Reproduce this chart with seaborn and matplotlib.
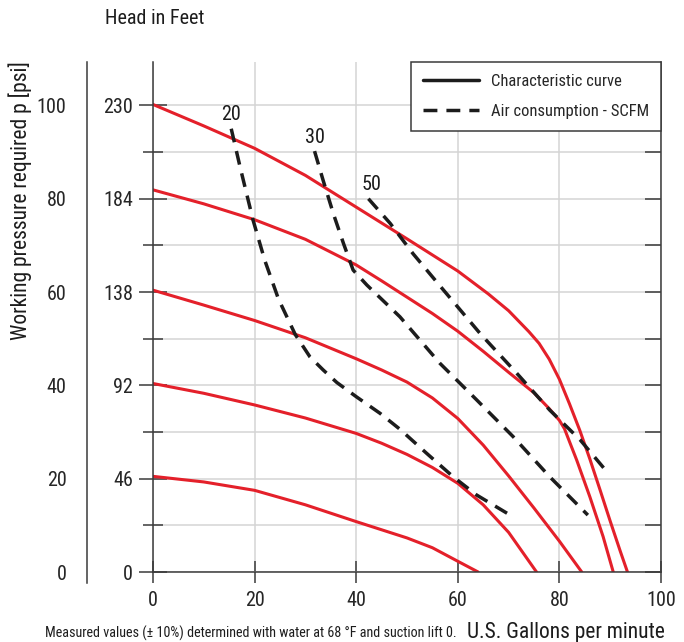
import os
import matplotlib
matplotlib.use("Agg")
import matplotlib.pyplot as plt
import seaborn as sns
from matplotlib import font_manager as fm
from matplotlib.lines import Line2D

# characteristic curves (x = US gpm, y = psi)
char_100_x = [0, 10, 20, 30, 40, 50, 60, 66, 70, 74, 76, 78, 80, 82, 84, 86, 88, 90, 92, 93.4]
char_100_y = [100.2, 95.6, 90.8, 85.0, 78.2, 71.4, 64.5, 59.6, 56.0, 51.5, 49.0, 45.6, 41.3, 36.0, 30.4, 24.2, 17.6, 10.9, 4.4, 0]

char_80_x = [0, 10, 20, 30, 40, 45, 50, 55, 60, 65, 70, 75, 78, 80, 81, 82, 83.4, 86, 88.6, 90.6]
char_80_y = [81.9, 78.9, 75.5, 71.3, 65.8, 62.4, 58.9, 55.4, 51.6, 47.3, 42.8, 38.4, 35.0, 32.5, 30.7, 27.9, 24.0, 16.1, 7.6, 0]

char_60_x = [0, 10, 20, 30, 40, 45, 50, 55, 60, 65, 70, 75, 80, 84.4]
char_60_y = [60.4, 57.2, 53.9, 50.2, 45.7, 43.3, 40.7, 37.3, 32.9, 27.2, 20.6, 13.7, 6.6, 0]

char_40_x = [0, 10, 20, 30, 40, 45, 50, 55, 60, 65, 70, 75.5]
char_40_y = [40.4, 38.3, 35.8, 33.0, 29.7, 27.6, 25.2, 22.4, 19.0, 14.4, 8.5, 0]

char_20_x = [0, 10, 20, 30, 40, 50, 55, 60, 64]
char_20_y = [20.5, 19.3, 17.5, 14.4, 10.8, 7.3, 5.2, 2.3, 0]

# air consumption lines (SCFM)
air_20_x = [15.4, 17.1, 19.7, 22.0, 24.7, 28.0, 30.9, 33.5, 36.2, 40.1, 44.7, 48.6, 53.9, 59.1, 63.7, 70.3]
air_20_y = [95.0, 87.0, 75.4, 66.8, 58.5, 50.9, 46.1, 43.3, 40.6, 37.5, 34.0, 30.6, 25.4, 20.4, 16.5, 12.2]

air_30_x = [31.8, 33.5, 35.5, 37.5, 39.4, 42.1, 48.6, 56.5, 63.7, 70.9, 78.1, 85.6]
air_30_y = [90.2, 83.9, 76.8, 70.4, 64.7, 61.5, 54.7, 44.7, 36.9, 29.0, 20.4, 12.2]

air_50_x = [42.4, 46.7, 51.2, 57.2, 64.4, 71.6, 78.1, 84.1, 88.8]
air_50_y = [80.0, 74.7, 68.2, 60.4, 51.1, 42.6, 34.7, 28.3, 22.2]

air_labels = ["20", "30", "50"]
air_label_x = [15.4, 31.9, 43.1]
air_label_y = [98.1, 93.2, 83.1]

psi_ticks = [0, 20, 40, 60, 80, 100]
feet_labels = ["0", "46", "92", "138", "184", "230"]
gpm_ticks = [0, 20, 40, 60, 80, 100]

RED = "#e4202a"
DARK = "#1c1c1c"
SPINE = "#3a3a3a"
GRID = "#d4d4d4"

sns.set_style("white")


def pick_narrow_font():
    # the reference uses a condensed sans; take the first condensed face we can find
    prefs = ["LiberationSansNarrow-Regular", "RobotoCondensed-Regular", "NotoSans-Condensed.",
             "DejaVuSansCondensed.", "OpenSans_Condensed-Regular", "OpenSans-CondensedRegular",
             "NotoSans-SemiCondensed."]
    files = [f.fname for f in fm.fontManager.ttflist]
    for p in prefs:
        for fname in files:
            if os.path.basename(fname).startswith(p):
                fm.fontManager.ttflist.append(fm.FontEntry(
                    fname=fname, name="NarrowPick", style="normal", variant="normal",
                    weight=400, stretch="normal", size="scalable"))
                fm.fontManager._findfont_cached.cache_clear()
                return "NarrowPick", 1.0
    return "DejaVu Sans", 0.82


FONT, K = pick_narrow_font()
plt.rcParams["font.family"] = [FONT, "DejaVu Sans"]

fig = plt.figure(figsize=(6.84, 6.42), dpi=100)
L, R, B, T = 153 / 684, 661 / 684, 1 - 572 / 642, 1 - 62 / 642
YMAX = 109.3
ax = fig.add_axes([L, B, R - L, T - B])

for xs, ys in [(char_100_x, char_100_y), (char_80_x, char_80_y), (char_60_x, char_60_y),
               (char_40_x, char_40_y), (char_20_x, char_20_y)]:
    sns.lineplot(x=xs, y=ys, ax=ax, color=RED, lw=2.2, sort=False, estimator=None,
                 solid_joinstyle="round")

for xs, ys in [(air_20_x, air_20_y), (air_30_x, air_30_y), (air_50_x, air_50_y)]:
    sns.lineplot(x=xs, y=ys, ax=ax, color=DARK, lw=2.5, sort=False, estimator=None)
    ax.lines[-1].set_dashes((4, 2.6))

for lab, lx, ly in zip(air_labels, air_label_x, air_label_y):
    ax.text(lx, ly, lab, fontsize=14.5 * K, ha="center", va="center", color=DARK)

ax.set_xlim(0, 100)
ax.set_ylim(0, YMAX)
ax.set_xlabel("")
ax.set_ylabel("")

ax.set_xticks(gpm_ticks)
ax.set_yticks(psi_ticks)
ax.set_yticklabels(feet_labels)
ax.set_yticks(range(10, 100, 20), minor=True)
ax.grid(axis="y", which="both", color=GRID, lw=1.1)
ax.grid(axis="x", which="major", color=GRID, lw=1.1)
ax.set_axisbelow(True)

ax.spines["top"].set_visible(False)
for s in ["left", "bottom", "right"]:
    ax.spines[s].set_color(SPINE)
    ax.spines[s].set_linewidth(1.1)

# tick lengths are in points (1 pt = 1.39 px here)
ax.tick_params(axis="y", which="major", direction="inout", length=20, width=1.1,
               color=SPINE, labelsize=14.5 * K, pad=4.3, left=True, right=False)
ax.tick_params(axis="y", which="minor", direction="inout", length=15, width=1.1,
               color=SPINE, left=True, right=False)
ax.tick_params(axis="x", which="major", direction="inout", length=16, width=1.1,
               color=SPINE, labelsize=14.5 * K, pad=6, bottom=True)

# right side inward ticks
ax_r = ax.twinx()
ax_r.set_ylim(0, YMAX)
ax_r.set_yticks(range(0, 101, 10))
ax_r.tick_params(axis="y", which="both", direction="in", length=11.5, width=1.1,
                 color=SPINE, left=False, right=True, labelleft=False, labelright=False)
for s in ax_r.spines.values():
    s.set_visible(False)

handles = [Line2D([0], [0], color=DARK, lw=2.5),
           Line2D([0], [0], color=DARK, lw=2.5, dashes=(4, 2.6))]
leg = ax_r.legend(handles, ["Characteristic curve", "Air consumption - SCFM"],
                  loc="upper right", bbox_to_anchor=(1, 1), borderaxespad=0,
                  fontsize=12 * K, handlelength=3.4, handletextpad=0.7,
                  labelspacing=0.9, borderpad=0.72, fancybox=False,
                  framealpha=1, edgecolor=SPINE)
leg.get_frame().set_linewidth(1.1)

# outer psi axis, its spine runs a little below 0 like the reference
OB = 583
ax_o = fig.add_axes([87 / 684, 1 - OB / 642, 0.0001, (OB - 62) / 642])
ax_o.patch.set_visible(False)
ax_o.set_ylim(-(OB - 572) / 4.667, YMAX)
for s in ["top", "right", "bottom"]:
    ax_o.spines[s].set_visible(False)
ax_o.spines["left"].set_color(SPINE)
ax_o.spines["left"].set_linewidth(1.1)
ax_o.xaxis.set_visible(False)
ax_o.set_yticks(psi_ticks)
ax_o.set_yticklabels([str(v) for v in psi_ticks])
ax_o.set_yticks(range(10, 100, 20), minor=True)
ax_o.tick_params(axis="y", which="major", direction="inout", length=19.5, width=1.1,
                 color=SPINE, labelsize=14.5 * K, pad=5)
ax_o.tick_params(axis="y", which="minor", direction="inout", length=16, width=1.1, color=SPINE)
ax_o.yaxis.get_major_ticks()[0].tick1line.set_visible(False)

fig.text(105 / 684, 1 - 18 / 642, "Head in Feet", fontsize=14.5 * K, ha="left", va="center", color=DARK)
fig.text(20 / 684, 1 - 201 / 642, "Working pressure required p [psi]", fontsize=15.5 * K,
         rotation=90, ha="center", va="center", color=DARK)
fig.text(45 / 684, 1 - 638 / 642, "Measured values (\u00b1 10%) determined with water at 68 \u00b0F and suction lift 0.",
         fontsize=10.2 * K, ha="left", va="baseline", color=DARK)
fig.text(665 / 684, 1 - 638 / 642, "U.S. Gallons per minute", fontsize=15.5 * K,
         ha="right", va="baseline", color=DARK)

fig.savefig("out.png", dpi=100)
plt.close()
